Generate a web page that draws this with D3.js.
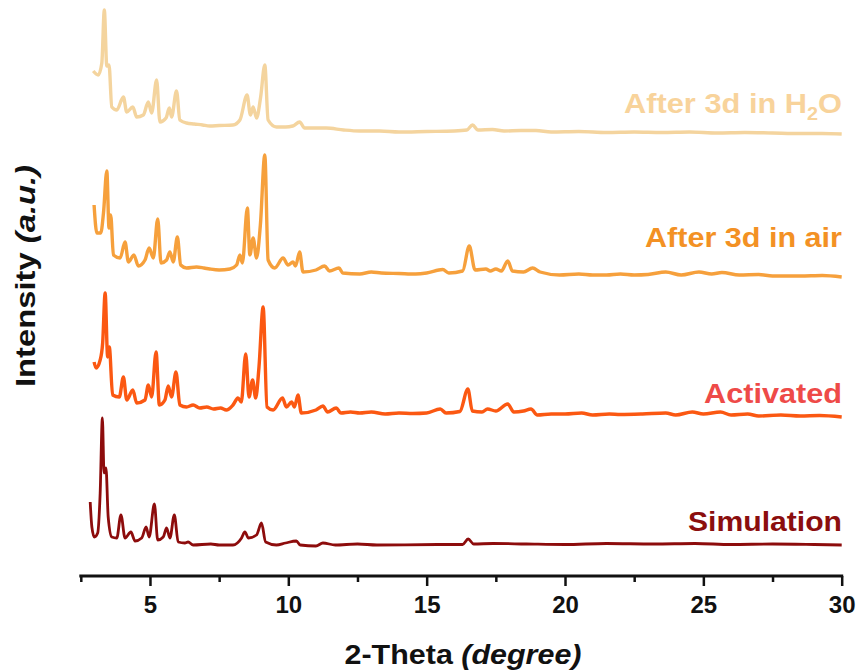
<!DOCTYPE html>
<html>
<head>
<meta charset="utf-8">
<script src="https://cdn.jsdelivr.net/npm/d3@7"></script>
<style>
  body { margin: 0; background: #fff; }
  svg { display: block; font-family: Arial, "Liberation Sans", sans-serif; }
  .tick-label { font-size: 24px; font-weight: bold; fill: #111; }
</style>
</head>
<body>
<svg id="chart" width="859" height="671"></svg>
<script>
/*****************************************************************************
 *  PXRD patterns (stacked)
 */

// two-theta positions (degree) and intensities (a.u., relative to own baseline)
var simX = [2.84, 2.9, 2.99, 3.11, 3.2, 3.28, 3.34, 3.41, 3.49, 3.62, 3.8, 3.95, 4.1, 4.31, 4.46, 4.7, 4.86, 4.97,
    5.16, 5.28, 5.48, 5.6, 5.72, 5.88, 6.02, 6.26, 6.38, 6.56, 7.2, 7.5, 8.0, 8.31, 8.43, 8.56, 8.85, 9.03, 9.18,
    9.57, 9.9, 10.29, 10.43, 11.0, 11.25, 11.7, 12.5, 13.2, 15.4, 16.3, 16.5, 16.7, 17.4, 18.6, 20.0, 21.5, 23.2,
    24.7, 26.0, 27.5, 29.0, 30.0];
var simY = [43, 18, 8, 12, 52, 127, 72, 77, 28, 8, 7, 30, 7, 13, 4, 7, 18, 8,
    41, 5, 8, 17, 7, 30, 3, 2, 3, 0, 1, 0, 0, 7, 13, 7, 10, 22, 3,
    0, 2, 4, 0, -1, 2, 0, 1, 0, 0.5, 0.5, 6, 1, 1.5, 1, 0.5, 1.5, 1,
    1.5, 0.5, 1, 0.5, 0];

var actX = [2.98, 3.05, 3.2, 3.29, 3.38, 3.47, 3.53, 3.65, 3.89, 4.04, 4.16, 4.38, 4.52, 4.82, 4.94, 5.06, 5.22,
    5.34, 5.54, 5.66, 5.78, 5.94, 6.08, 6.32, 6.56, 6.8, 7.05, 7.3, 7.55, 7.76, 8.0, 8.18, 8.3, 8.46, 8.58, 8.71,
    8.82, 8.94, 9.09, 9.23, 9.45, 9.79, 9.93, 10.12, 10.22, 10.35, 10.47, 11.0, 11.25, 11.42, 11.73, 11.9, 12.25,
    12.58, 13.0, 13.5, 14.0, 14.5, 15.0, 15.49, 15.7, 16.2, 16.49, 16.65, 17.0, 17.2, 17.5, 17.93, 18.15, 18.5,
    18.77, 19.0, 19.5, 20.0, 20.6, 21.0, 21.6, 22.0, 22.8, 23.64, 24.0, 24.6, 25.0, 25.62, 26.0, 26.6, 27.0,
    27.8, 28.5, 29.2, 30.0];
var actY = [55, 49, 57, 74, 124, 60, 70, 22, 20, 40, 17, 27, 14, 17, 32, 20, 65,
    12, 17, 31, 20, 45, 12, 10, 12, 9, 10, 8, 9, 7, 12, 19, 15, 63, 20, 37,
    19, 50, 110, 10, 7, 19, 10, 15, 10, 22, 4, 7, 11, 5, 9, 4, 5,
    4, 5, 3, 4, 3.5, 4, 8, 4, 5.5, 28, 6, 5, 8, 6, 13, 5, 6,
    8, 2, 3, 3, 4, 2, 3, 2.5, 3, 4, 2, 5, 3, 5, 2, 3, 1,
    2, 1, 1.5, 0];

var airX = [2.98, 3.08, 3.22, 3.32, 3.44, 3.52, 3.58, 3.68, 3.92, 4.1, 4.22, 4.42, 4.58, 4.82, 4.97, 5.12, 5.28,
    5.4, 5.6, 5.72, 5.84, 5.99, 6.11, 6.32, 6.68, 6.95, 7.16, 7.5, 7.89, 8.13, 8.25, 8.34, 8.52, 8.61, 8.73, 8.85,
    8.99, 9.15, 9.27, 9.51, 9.81, 9.99, 10.17, 10.26, 10.41, 10.53, 11.0, 11.31, 11.49, 11.83, 11.97, 12.58,
    13.0, 13.36, 14.0, 14.6, 15.0, 15.58, 15.8, 16.3, 16.54, 16.75, 17.14, 17.3, 17.5, 17.7, 17.93, 18.1, 18.5,
    18.83, 19.1, 19.8, 20.5, 21.0, 21.5, 22.0, 22.5, 23.0, 23.64, 24.2, 24.84, 25.3, 25.67, 26.3, 27.0, 27.5,
    28.5, 29.3, 30.0];
var airY = [72, 44, 44, 64, 106, 49, 62, 22, 19, 35, 15, 22, 11, 17, 29, 19, 58,
    14, 17, 25, 15, 40, 12, 9, 10, 9, 8, 7, 8, 12, 22, 14, 69, 22, 39, 19,
    52, 122, 17, 9, 19, 12, 15, 11, 25, 5, 7, 11, 6, 9, 4, 3,
    5, 4, 3.5, 3, 4, 7.5, 4, 6, 31, 7, 8, 6, 8, 6, 16, 6, 5,
    9, 5, 2, 3, 2, 2, 3, 2, 2.5, 5, 2, 5, 3, 4.5, 2, 2.5, 1,
    1, 1.5, 0];

var h2oX = [2.95, 3.13, 3.26, 3.35, 3.44, 3.52, 3.62, 3.8, 4.04, 4.16, 4.38, 4.52, 4.76, 4.94, 5.06, 5.24, 5.36,
    5.58, 5.7, 5.78, 5.96, 6.08, 6.32, 6.6, 6.9, 7.16, 7.5, 8.0, 8.25, 8.51, 8.63, 8.73, 8.85, 9.0, 9.15, 9.27,
    9.57, 9.9, 10.16, 10.41, 10.59, 11.0, 11.37, 12.0, 12.58, 13.3, 14.0, 15.0, 16.0, 16.45, 16.66, 16.85, 17.38,
    17.8, 18.4, 18.95, 19.5, 20.5, 21.5, 22.5, 23.5, 24.5, 25.5, 26.5, 27.5, 28.5, 29.3, 30.0];
var h2oY = [63, 59, 71, 124, 68, 69, 27, 24, 37, 22, 27, 17, 19, 32, 21, 54, 12,
    16, 26, 17, 43, 14, 11, 10, 9, 8, 8.5, 9, 14, 39, 19, 27, 16, 37, 69, 14,
    7, 7, 8, 12, 6, 6, 6, 4, 3, 3, 2, 2.5, 3, 4, 9, 4, 4.5,
    3, 3.5, 3.5, 2, 2.5, 1.5, 2, 1.5, 2, 1, 1.5, 1, 0.5, 0.5, 0];

// stacking offsets, names, colours
var SERIES_X = [simX, actX, airX, h2oX];
var SERIES_Y = [simY, actY, airY, h2oY];
var SERIES_OFFSET = [35, 163, 303, 446];
var SERIES_COLOR = ["#8d0c0c", "#fb5812", "#f6a03c", "#f4d49e"];
var SERIES_WIDTH = [2.8, 3.4, 3.4, 3.4];
var LABEL_TEXT = ["Simulation", "Activated", "After 3d in air", "After 3d in H"];
var LABEL_COLOR = ["#8b0e0e", "#ee4a48", "#f39124", "#f8d39b"];
var LABEL_BASELINE = [531, 403, 247, 113];
var LABEL_WIDTH = [154, 138, 197, 218];

var X_MAJOR = [5, 10, 15, 20, 25, 30];
var X_MINOR = [2.5, 7.5, 12.5, 17.5, 22.5, 27.5];

var AXIS_Y = 576;
var svg = d3.select("#chart");

var xScale = d3.scaleLinear().domain([2.5, 30]).range([80.8, 841.7]);
var yScale = d3.scaleLinear().domain([0, 580]).range([580, 0]);

// Render patterns
for (var s = 0; s < SERIES_X.length; s++) {
    var pts = SERIES_X[s].map((x, i) => [x, SERIES_Y[s][i] + SERIES_OFFSET[s]]);
    var lineGenerator = d3.line()
        .curve(d3.curveMonotoneX)
        .x(d => xScale(d[0]))
        .y(d => yScale(d[1]));
    svg.append("path")
        .attr("class", "pattern")
        .attr("d", lineGenerator(pts))
        .attr("fill", "none")
        .attr("stroke", SERIES_COLOR[s])
        .attr("stroke-width", SERIES_WIDTH[s])
        .attr("stroke-linejoin", "round");
}

// Render series labels
for (var s = 0; s < LABEL_TEXT.length; s++) {
    var t = svg.append("text")
        .attr("x", 842)
        .attr("y", LABEL_BASELINE[s])
        .attr("text-anchor", "end")
        .attr("font-size", 28)
        .attr("font-weight", "bold")
        .attr("fill", LABEL_COLOR[s])
        .attr("textLength", LABEL_WIDTH[s])
        .attr("lengthAdjust", "spacingAndGlyphs");
    t.append("tspan").text(LABEL_TEXT[s]);
    if (s == 3) {
        t.append("tspan").attr("font-size", 18).attr("dy", 7).text("2");
        t.append("tspan").attr("dy", -7).text("O");
    }
}

// Render x axis
var minorAxis = d3.axisBottom(xScale).tickValues(X_MINOR).tickSize(6).tickSizeOuter(0).tickFormat("");
var majorAxis = d3.axisBottom(xScale).tickValues(X_MAJOR).tickSize(10).tickSizeOuter(0);

var gMinor = svg.append("g").attr("transform", "translate(0," + AXIS_Y + ")").call(minorAxis);
var gMajor = svg.append("g").attr("transform", "translate(0," + AXIS_Y + ")").call(majorAxis);

gMinor.select(".domain").remove();
gMinor.selectAll(".tick line").attr("stroke", "#111").attr("stroke-width", 2.5);
gMajor.select(".domain")
    .attr("stroke", "#111")
    .attr("stroke-width", 3)
    .attr("d", "M" + (xScale(2.5) - 1.5) + ",0H" + (xScale(30) + 1.5));
gMajor.selectAll(".tick line").attr("stroke", "#111").attr("stroke-width", 2.5);
gMajor.selectAll(".tick text")
    .attr("class", "tick-label")
    .attr("y", 37)
    .attr("dy", null)
    .attr("font-size", null)
    .attr("font-family", null);

// Axis titles
var xTitle = svg.append("text")
    .attr("x", 463)
    .attr("y", 664)
    .attr("text-anchor", "middle")
    .attr("font-size", 27)
    .attr("font-weight", "bold")
    .attr("fill", "#111")
    .attr("textLength", 237)
    .attr("lengthAdjust", "spacingAndGlyphs");
xTitle.append("tspan").text("2-Theta ");
xTitle.append("tspan").attr("font-style", "italic").text("(degree)");

var yTitle = svg.append("text")
    .attr("transform", "translate(35,276) rotate(-90)")
    .attr("text-anchor", "middle")
    .attr("font-size", 28)
    .attr("font-weight", "bold")
    .attr("fill", "#111")
    .attr("textLength", 222)
    .attr("lengthAdjust", "spacingAndGlyphs");
yTitle.append("tspan").text("Intensity ");
yTitle.append("tspan").attr("font-style", "italic").text("(a.u.)");
</script>
</body>
</html>
